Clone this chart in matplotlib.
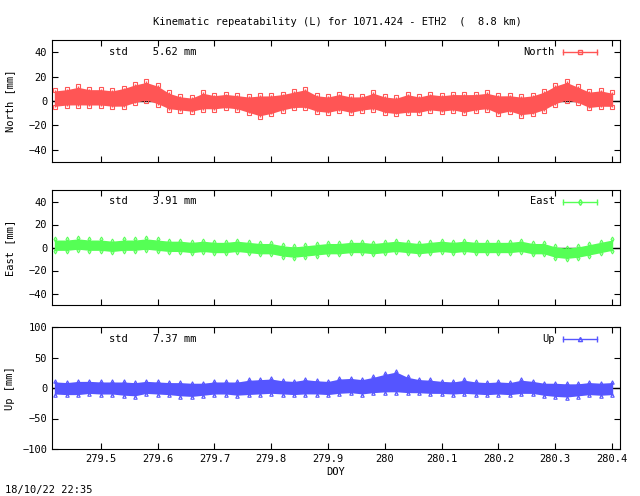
import matplotlib
matplotlib.use("Agg")
import matplotlib.pyplot as plt
import numpy as np

plt.rcParams.update({"font.family": "DejaVu Sans Mono", "font.size": 7.5})

DOY = [279.42 + 0.02 * i for i in range(50)]
NORTH = [2, 3, 4, 3, 3, 2, 3, 6, 8, 5, 0, -2, -3, 0, -1, 0, -1, -3, -4, -3,
         -1, 1, 2, -2, -3, -1, -3, -2, 0, -3, -4, -2, -3, -1, -2, -1, -2, -1, 0, -3,
         -2, -4, -3, 0, 5, 8, 5, 1, 2, 1]
NORTH_HW = [7, 7, 8, 7, 7, 7, 8, 8, 8, 8, 7, 6, 6, 7, 6, 6, 6, 7, 9, 8,
            7, 7, 8, 7, 7, 7, 7, 6, 7, 7, 7, 8, 7, 7, 7, 7, 8, 7, 7, 8,
            7, 8, 8, 8, 8, 8, 7, 7, 7, 6]
EAST = [2, 2, 3, 2, 2, 1, 2, 2, 3, 2, 1, 1, 0, 1, 0, 0, 1, 0, -1, -1,
        -3, -4, -3, -2, -1, -1, 0, 0, -1, 0, 1, 0, -1, 0, 1, 0, 1, 0, 0, 0,
        0, 1, -1, -1, -4, -5, -4, -2, 0, 2]
EAST_HW = [5] * 50
UP = [0, -1, 0, 1, 0, 0, -1, -2, 1, 0, -1, -2, -3, -2, 0, 0, -1, 1, 2, 3,
      1, 0, 2, 1, 0, 3, 4, 2, 5, 8, 10, 5, 3, 2, 1, 0, 2, 0, -1, 0,
      -1, 2, 1, -2, -3, -4, -3, -1, -2, -1]
UP_HW = [11, 11, 12, 11, 11, 11, 12, 12, 11, 11, 11, 12, 12, 11, 11, 11, 12, 13, 13, 13,
         12, 12, 13, 12, 12, 13, 13, 13, 14, 16, 18, 14, 12, 12, 11, 11, 12, 11, 11, 11,
         11, 12, 11, 11, 12, 12, 11, 11, 11, 11]
STD = ["5.62", "3.91", "7.37"]
XTICKS = [279.5, 279.6, 279.7, 279.8, 279.9, 280.0, 280.1, 280.2, 280.3, 280.4]
XLABELS = ["279.5", "279.6", "279.7", "279.8", "279.9", "280", "280.1", "280.2", "280.3", "280.4"]

panels = [
    ("North", NORTH, NORTH_HW, "#ff5555", "s", (-50, 50), [-40, -20, 0, 20, 40], STD[0]),
    ("East", EAST, EAST_HW, "#55ff55", "d", (-50, 50), [-40, -20, 0, 20, 40], STD[1]),
    ("Up", UP, UP_HW, "#5555ff", "^", (-100, 100), [-100, -50, 0, 50, 100], STD[2]),
]
boxes = [(40, 162), (190, 305), (327, 449)]

fig = plt.figure(figsize=(6.4, 4.96), dpi=100)
W, H = 640, 496
x = np.array(DOY)
for (name, vals, hw, col, mk, ylim, yt, std), (top, bot) in zip(panels, boxes):
    ax = fig.add_axes([52 / W, 1 - bot / H, 568 / W, (bot - top) / H])
    v = np.array(vals, float); h = np.array(hw, float)
    ax.axhline(0, color="black", lw=1, zorder=1)
    ax.fill_between(x, v - h * 0.9, v + h * 0.9, color=col, lw=0, zorder=2)
    ax.errorbar(x, v, yerr=h, fmt="none", ecolor=col, lw=1, zorder=2)
    ax.plot(x, v + h, mk, mfc="none", mec=col, ms=2.5, mew=0.8, ls="none", zorder=3)
    ax.plot(x, v - h, mk, mfc="none", mec=col, ms=2.5, mew=0.8, ls="none", zorder=3)
    ax.set_xlim(279.414, 280.414)
    ax.set_ylim(*ylim)
    ax.set_yticks(yt)
    ax.set_xticks(XTICKS)
    ax.tick_params(direction="in", top=True, right=True, length=4)
    if name == "Up":
        ax.set_xticklabels(XLABELS)
        ax.set_xlabel("DOY", labelpad=2)
    else:
        ax.set_xticklabels([])
    ax.set_ylabel(f"{name} [mm]")
    ax.yaxis.set_label_coords(-0.065, 0.5)
    ax.text(0.1, 0.9, f"std    {std} mm", transform=ax.transAxes, va="center")
    ax.text(0.885, 0.9, name, transform=ax.transAxes, va="center", ha="right")
    ax.plot([0.9, 0.96], [0.9, 0.9], color=col, lw=1, transform=ax.transAxes, zorder=5)
    ax.plot([0.9, 0.96], [0.9, 0.9], "|", color=col, ms=5, transform=ax.transAxes, zorder=5)
    ax.plot([0.93], [0.9], mk, mfc="none", mec=col, ms=3, transform=ax.transAxes, zorder=5)

fig.text(337 / W, 1 - 22 / H, "Kinematic repeatability (L) for 1071.424 - ETH2  (  8.8 km)",
         ha="center", va="center")
fig.text(5 / W, 1 - 490 / H, "18/10/22 22:35", va="center")
fig.savefig("out.png", dpi=100, facecolor="white")
